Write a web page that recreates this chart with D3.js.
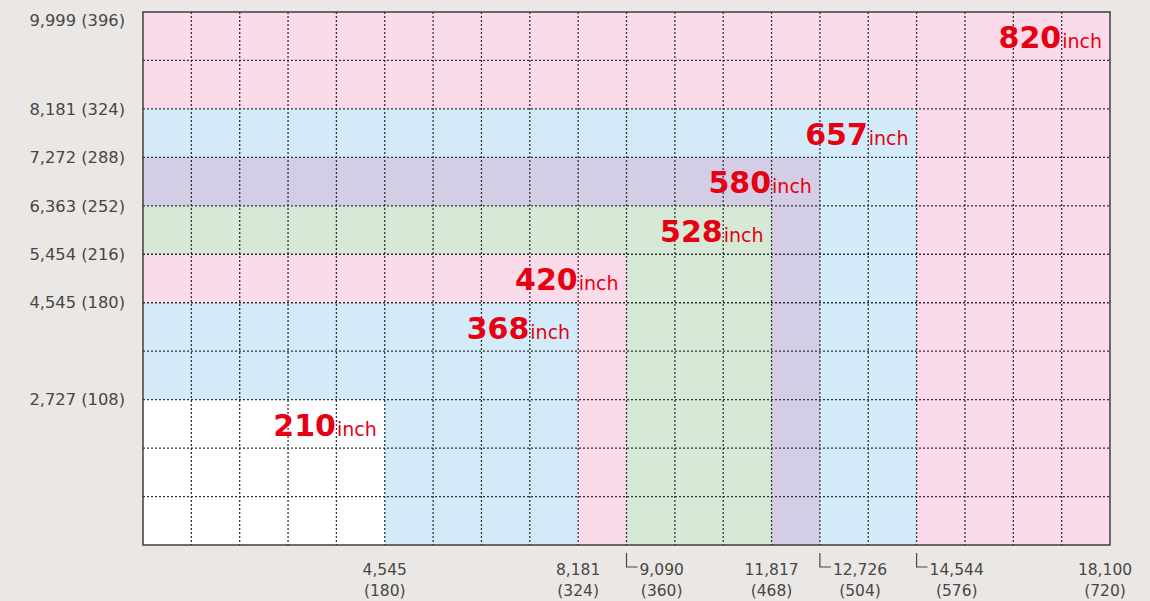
<!DOCTYPE html>
<html>
<head>
<meta charset="utf-8">
<style>
  body { margin: 0; background: #ebe7e4; }
  svg { display: block; }
  .tick-label { font-family: "DejaVu Sans", sans-serif; font-size: 15.5px; fill: #474747; }
  .tick-label.y { font-size: 16.3px; }
  .size-num { font-family: "DejaVu Sans", sans-serif; font-weight: bold; font-size: 30px; fill: #e60012; }
  .size-unit { font-family: "DejaVu Sans", sans-serif; font-size: 19px; fill: #e60012; }
</style>
<script src="https://cdn.jsdelivr.net/npm/d3@7"></script>
</head>
<body>
<script>
// screen sizes (inch diagonal) and their width / height in inches
const sizes   = [820, 657, 580, 528, 420, 368, 210];
const widthsIn  = [720, 576, 504, 468, 360, 324, 180];
const heightsIn = [396, 324, 288, 252, 216, 180, 108];
const fills = ["#fbdbe9", "#d3ebf8", "#d3cde6", "#d5e9d6", "#fbdbe9", "#d3ebf8", "#ffffff"];

// axis tick labels: mm and (inch)
const xTickMm   = ["4,545", "8,181", "9,090", "11,817", "12,726", "14,544", "18,100"];
const xTickIn   = [180, 324, 360, 468, 504, 576, 720];
const xBracket  = [false, false, true, false, true, true, false];
const yTickMm   = ["2,727", "4,545", "5,454", "6,363", "7,272", "8,181", "9,999"];
const yTickIn   = [108, 180, 216, 252, 288, 324, 396];

const W = 1150, H = 601;
const plotL = 143, plotR = 1110, plotT = 12, plotB = 545;
const cell = 36; // one grid cell = 36 inch (909mm)

const x = d3.scaleLinear().domain([0, 720]).range([plotL, plotR]);
const y = d3.scaleLinear().domain([0, 396]).range([plotB, plotT]);

const svg = d3.select("body").append("svg").attr("width", W).attr("height", H);

// nested screen rectangles, biggest first
svg.append("g").selectAll("rect")
  .data(sizes)
  .join("rect")
  .attr("x", x(0))
  .attr("y", (d, i) => y(heightsIn[i]))
  .attr("width", (d, i) => x(widthsIn[i]) - x(0))
  .attr("height", (d, i) => y(0) - y(heightsIn[i]))
  .attr("fill", (d, i) => fills[i]);

// dotted grid
const grid = svg.append("g")
  .attr("stroke", "#333")
  .attr("stroke-width", 1.3)
  .attr("stroke-dasharray", "2,2");
grid.selectAll("line.v")
  .data(d3.range(cell, 720, cell))
  .join("line").attr("class", "v")
  .attr("x1", d => x(d)).attr("x2", d => x(d))
  .attr("y1", plotT).attr("y2", plotB);
grid.selectAll("line.h")
  .data(d3.range(cell, 396, cell))
  .join("line").attr("class", "h")
  .attr("x1", plotL).attr("x2", plotR)
  .attr("y1", d => y(d)).attr("y2", d => y(d));

// frame
svg.append("rect")
  .attr("x", plotL).attr("y", plotT)
  .attr("width", plotR - plotL).attr("height", plotB - plotT)
  .attr("fill", "none").attr("stroke", "#333").attr("stroke-width", 1.4);

// size labels at top-right of each rectangle
const lab = svg.append("g").selectAll("text")
  .data(sizes)
  .join("text")
  .attr("x", (d, i) => x(widthsIn[i]) - 8)
  .attr("y", (d, i) => y(heightsIn[i]) + 36)
  .attr("text-anchor", "end");
lab.append("tspan").attr("class", "size-num").text(d => d);
lab.append("tspan").attr("class", "size-unit").attr("dx", 1).text("inch");

// y axis labels
svg.append("g").selectAll("text")
  .data(yTickIn)
  .join("text")
  .attr("class", "tick-label y")
  .attr("x", 125)
  .attr("y", d => Math.max(y(d), plotT + 8))
  .attr("dy", "0.35em")
  .attr("text-anchor", "end")
  .text((d, i) => yTickMm[i] + " (" + d + ")");

// x axis labels; bracketed ones start just right of the little └ mark
const xl = svg.append("g").selectAll("g")
  .data(xTickIn)
  .join("g");
const top1 = xl.append("text").attr("class", "tick-label")
  .attr("y", 575).attr("text-anchor", "middle")
  .text((d, i) => xTickMm[i]);
xl.append("text").attr("class", "tick-label")
  .attr("y", 596).attr("text-anchor", "middle")
  .text(d => "(" + d + ")");
xl.attr("transform", function(d, i) {
  let cx = x(d);
  if (xBracket[i]) {
    const w = d3.select(this).select("text").node().getComputedTextLength();
    cx = x(d) + 13 + w / 2;
  } else if (i === xTickIn.length - 1) {
    cx -= 5;
  }
  return `translate(${cx},0)`;
});

// little bracket marks for offset labels
svg.append("g").selectAll("path")
  .data(xTickIn.filter((d, i) => xBracket[i]))
  .join("path")
  .attr("d", d => `M${x(d)},553V567H${x(d) + 11}`)
  .attr("fill", "none").attr("stroke", "#474747").attr("stroke-width", 1.2);
</script>
</body>
</html>
